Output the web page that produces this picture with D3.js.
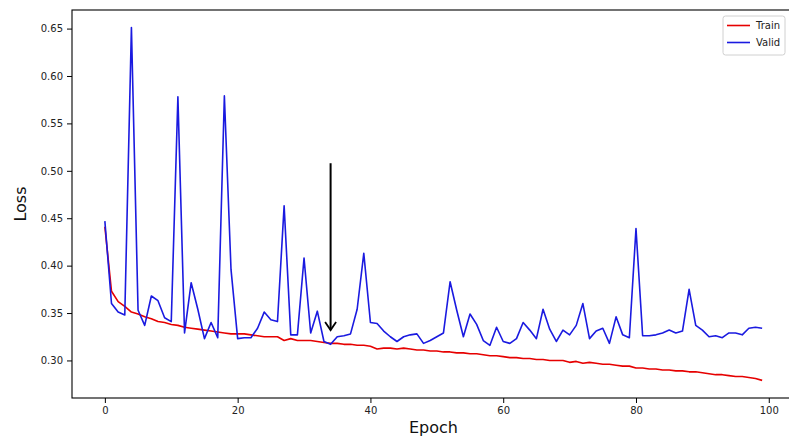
<!DOCTYPE html>
<html>
<head>
<meta charset="utf-8">
<script src="https://cdn.jsdelivr.net/npm/d3@7/dist/d3.min.js"></script>
<style>
  html, body { margin: 0; padding: 0; background: #fff; }
  svg { display: block; font-family: "DejaVu Sans", sans-serif; }
</style>
</head>
<body>
<svg id="chart" width="789" height="439"></svg>
<script>
// Per-epoch loss values
const epochs = d3.range(0, 100);
const trainLoss = [
  0.441, 0.373, 0.362, 0.357, 0.351, 0.349, 0.346, 0.344, 0.341, 0.340,
  0.338, 0.337, 0.335, 0.334, 0.333, 0.332, 0.331, 0.330, 0.329, 0.328,
  0.328, 0.328, 0.327, 0.326, 0.325, 0.325, 0.325, 0.321, 0.323, 0.321,
  0.321, 0.321, 0.320, 0.319, 0.318, 0.318, 0.317, 0.317, 0.316, 0.316,
  0.315, 0.312, 0.313, 0.313, 0.312, 0.313, 0.312, 0.311, 0.311, 0.310,
  0.310, 0.309, 0.309, 0.308, 0.308, 0.307, 0.307, 0.306, 0.305, 0.305,
  0.304, 0.303, 0.303, 0.302, 0.302, 0.301, 0.301, 0.300, 0.300, 0.300,
  0.298, 0.299, 0.297, 0.298, 0.297, 0.296, 0.296, 0.295, 0.294, 0.294,
  0.292, 0.292, 0.291, 0.291, 0.290, 0.290, 0.289, 0.289, 0.288, 0.288,
  0.287, 0.286, 0.285, 0.285, 0.284, 0.283, 0.283, 0.282, 0.281, 0.279
];
const validLoss = [
  0.447, 0.360, 0.351, 0.348, 0.651, 0.353, 0.337, 0.368, 0.363, 0.345,
  0.341, 0.578, 0.329, 0.382, 0.354, 0.323, 0.340, 0.324, 0.579, 0.396,
  0.323, 0.324, 0.324, 0.334, 0.351, 0.343, 0.341, 0.463, 0.327, 0.327,
  0.408, 0.329, 0.352, 0.320, 0.317, 0.325, 0.326, 0.328, 0.354, 0.413,
  0.340, 0.339, 0.331, 0.325, 0.320, 0.325, 0.327, 0.328, 0.318, 0.321,
  0.325, 0.329, 0.383, 0.353, 0.325, 0.349, 0.338, 0.321, 0.316, 0.335,
  0.320, 0.318, 0.323, 0.340, 0.332, 0.323, 0.354, 0.333, 0.320, 0.332,
  0.327, 0.337, 0.360, 0.323, 0.331, 0.334, 0.318, 0.346, 0.327, 0.324,
  0.439, 0.326, 0.326, 0.327, 0.329, 0.332, 0.329, 0.331, 0.375, 0.337,
  0.332, 0.325, 0.326, 0.324, 0.329, 0.329, 0.327, 0.334, 0.335, 0.334
];
const xTicks = [0, 20, 40, 60, 80, 100];
const yTicks = [0.30, 0.35, 0.40, 0.45, 0.50, 0.55, 0.60, 0.65];
const seriesNames = ["Train", "Valid"];
const seriesColors = ["#e60000", "#1a1ae0"];
// Arrow marking the best validation epoch
const arrowEpoch = 34;
const arrowFrom = 0.508;
const arrowTo = 0.332;

const svg = d3.select("#chart");
const plot = { left: 72, top: 10, right: 795, bottom: 398 };

// Axis limits with 5% padding around the data
function padded(lo, hi) {
  const m = (hi - lo) * 0.05;
  return [lo - m, hi + m];
}
const allY = trainLoss.concat(validLoss);
const x = d3.scaleLinear()
  .domain(padded(d3.min(epochs), d3.max(epochs)))
  .range([plot.left, plot.right]);
const y = d3.scaleLinear()
  .domain(padded(d3.min(allY), d3.max(allY)))
  .range([plot.bottom, plot.top]);

svg.append("defs").append("clipPath").attr("id", "plotClip")
  .append("rect")
  .attr("x", plot.left).attr("y", plot.top)
  .attr("width", plot.right - plot.left).attr("height", plot.bottom - plot.top);

const g = svg.append("g").attr("clip-path", "url(#plotClip)");

const line = d3.line().x((d, i) => x(epochs[i])).y(d => y(d));

[trainLoss, validLoss].forEach((s, k) => {
  g.append("path")
    .datum(s)
    .attr("fill", "none")
    .attr("stroke", seriesColors[k])
    .attr("stroke-width", 1.6)
    .attr("stroke-linejoin", "round")
    .attr("d", line);
});

// Annotation arrow
const ax = x(arrowEpoch);
g.append("line")
  .attr("x1", ax).attr("x2", ax)
  .attr("y1", y(arrowFrom)).attr("y2", y(arrowTo))
  .attr("stroke", "#000").attr("stroke-width", 2);
g.append("path")
  .attr("d", `M${ax - 5.5},${y(arrowTo) - 8} L${ax},${y(arrowTo)} L${ax + 5.5},${y(arrowTo) - 8}`)
  .attr("fill", "none").attr("stroke", "#000").attr("stroke-width", 1.8);

// Axes
const xAxis = d3.axisBottom(x).tickValues(xTicks).tickSize(5).tickPadding(4)
  .tickFormat(d3.format("d"));
const yAxis = d3.axisLeft(y).tickValues(yTicks).tickSize(5).tickPadding(4)
  .tickFormat(d3.format(".2f"));

const gx = svg.append("g").attr("transform", `translate(0,${plot.bottom})`).call(xAxis);
const gy = svg.append("g").attr("transform", `translate(${plot.left},0)`).call(yAxis);
[gx, gy].forEach(a => {
  a.select(".domain").remove();
  a.selectAll(".tick line").attr("stroke", "#000").attr("stroke-width", 1);
  a.selectAll(".tick text").attr("fill", "#222").style("font-size", "10px")
    .style("font-family", "'DejaVu Sans', sans-serif");
});

// Frame
svg.append("rect")
  .attr("x", plot.left).attr("y", plot.top)
  .attr("width", plot.right - plot.left).attr("height", plot.bottom - plot.top)
  .attr("fill", "none").attr("stroke", "#000").attr("stroke-width", 1.1);

// Axis titles
svg.append("text")
  .attr("x", (plot.left + plot.right) / 2).attr("y", 433)
  .attr("text-anchor", "middle")
  .style("font-size", "16px").attr("fill", "#111")
  .text("Epoch");
svg.append("text")
  .attr("transform", `translate(26,${(plot.top + plot.bottom) / 2}) rotate(-90)`)
  .attr("text-anchor", "middle")
  .style("font-size", "16px").attr("fill", "#111")
  .text("Loss");

// Legend
const lg = svg.append("g").attr("transform", "translate(723,16)");
lg.append("rect")
  .attr("width", 62).attr("height", 39).attr("rx", 2.5)
  .attr("fill", "#fff").attr("fill-opacity", 0.8)
  .attr("stroke", "#d0d0d0").attr("stroke-width", 1);
seriesNames.forEach((name, i) => {
  const yy = 9.5 + i * 17;
  lg.append("line")
    .attr("x1", 4).attr("x2", 27).attr("y1", yy).attr("y2", yy)
    .attr("stroke", seriesColors[i]).attr("stroke-width", 1.6);
  lg.append("text")
    .attr("x", 33).attr("y", yy + 3.6)
    .style("font-size", "10px").attr("fill", "#222")
    .text(name);
});
</script>
</body>
</html>
